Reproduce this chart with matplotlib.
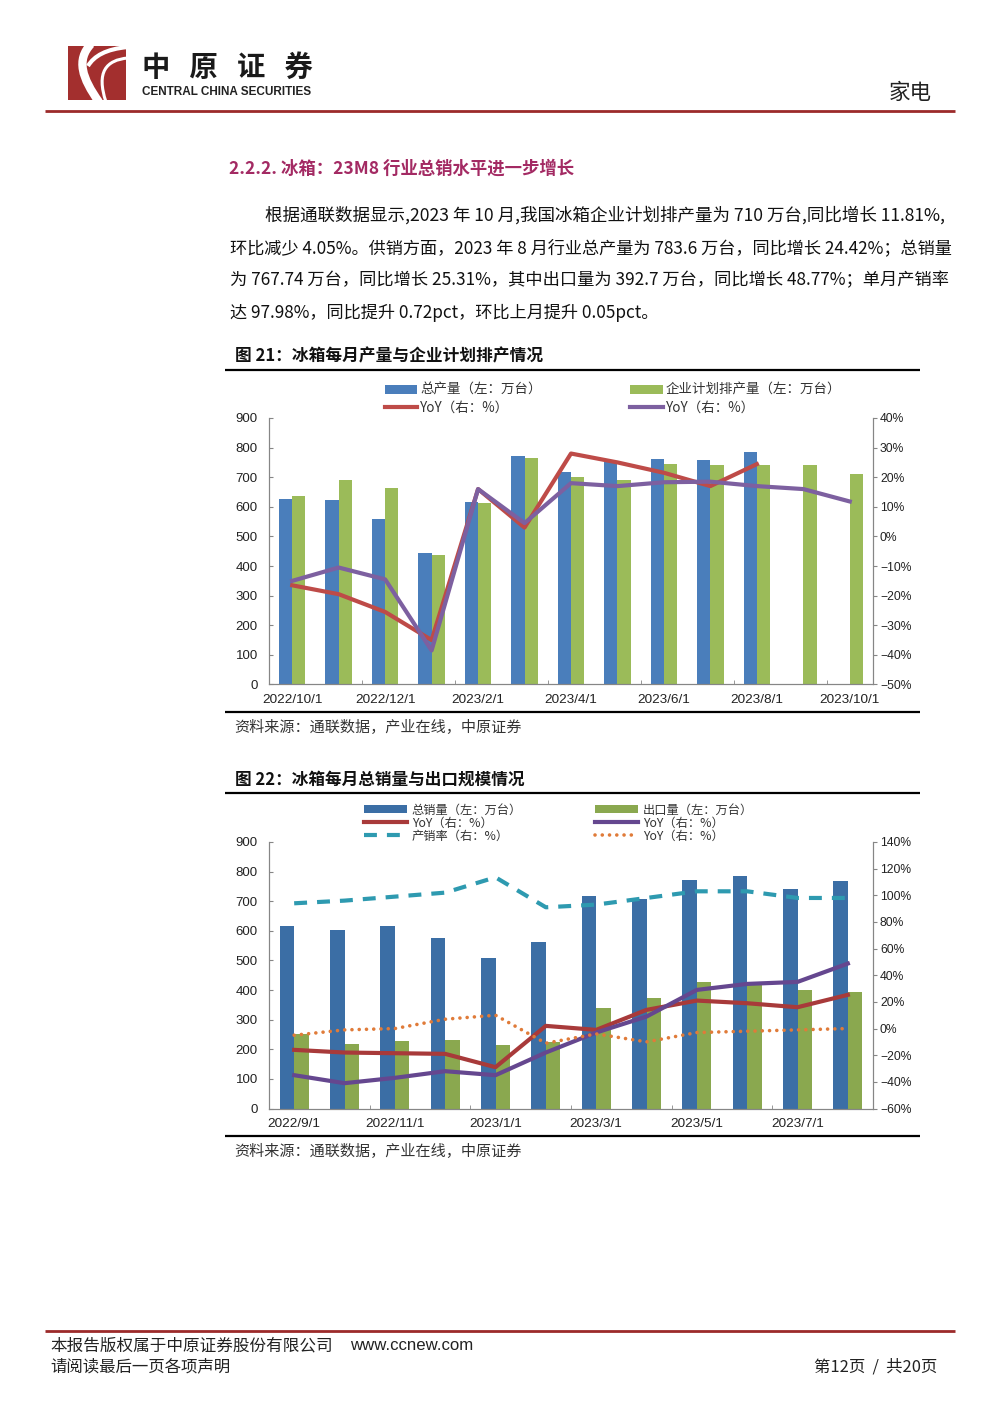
#!/usr/bin/env python3
# -*- coding: utf-8 -*-
import numpy as np
import matplotlib
matplotlib.use('Agg')
import matplotlib.pyplot as plt
from matplotlib.patches import Rectangle, PathPatch
from matplotlib.path import Path

plt.rcParams['font.family'] = ['Noto Sans CJK SC', 'DejaVu Sans']
LATIN = ['Liberation Sans', 'DejaVu Sans']

# chart 21
months1 = ['2022/10/1', '2022/11/1', '2022/12/1', '2023/1/1', '2023/2/1', '2023/3/1', '2023/4/1',
           '2023/5/1', '2023/6/1', '2023/7/1', '2023/8/1', '2023/9/1', '2023/10/1']
prod = [628, 623, 560, 445, 617, 772, 717, 752, 760, 757, 783.6, np.nan, np.nan]
plan = [635, 690, 665, 437, 614, 765, 700, 690, 745, 740, 740, 740, 710]
prod_yoy = [-16.5, -19.5, -25.5, -35, 16, 3, 28, 25, 21.5, 17, 24.42, np.nan, np.nan]
plan_yoy = [-15, -10.5, -14.5, -38.5, 16, 4.5, 18, 17, 18.3, 18.5, 17, 16, 11.81]
left_ticks1 = [0, 100, 200, 300, 400, 500, 600, 700, 800, 900]
right_ticks1 = [-50, -40, -30, -20, -10, 0, 10, 20, 30, 40]

# chart 22
months2 = ['2022/9/1', '2022/10/1', '2022/11/1', '2022/12/1', '2023/1/1', '2023/2/1',
           '2023/3/1', '2023/4/1', '2023/5/1', '2023/6/1', '2023/7/1', '2023/8/1']
sales = [617, 602, 615, 575, 508, 561, 716, 707, 771, 784, 740, 767.74]
export = [250, 218, 229, 233, 216, 223, 338, 374, 426, 420, 401, 392.7]
sales_yoy = [-16, -18, -18.5, -19, -29, 2, -1, 14, 21, 19, 16, 25.31]
export_yoy = [-35, -41, -37, -32, -35, -18, -3, 9, 29, 33.5, 35, 48.77]
ratio = [94, 96, 99, 102, 113.5, 91, 93, 98, 103, 103, 98, 98]
ratio_yoy = [-5, -1, 0, 7, 10, -11, -4, -10, -3, -2, -1, 0]
left_ticks2 = left_ticks1
right_ticks2 = [-60, -40, -20, 0, 20, 40, 60, 80, 100, 120, 140]

body = ['根据通联数据显示,2023 年 10 月,我国冰箱企业计划排产量为 710 万台,同比增长 11.81%,',
        '环比减少 4.05%。供销方面，2023 年 8 月行业总产量为 783.6 万台，同比增长 24.42%；总销量',
        '为 767.74 万台，同比增长 25.31%，其中出口量为 392.7 万台，同比增长 48.77%；单月产销率',
        '达 97.98%，同比提升 0.72pct，环比上月提升 0.05pct。']

GRAY = '#868686'
W, H = 1000, 1413
fig = plt.figure(figsize=(10, 14.13), dpi=100)

page = fig.add_axes([0, 0, 1, 1])
page.set_xlim(0, W)
page.set_ylim(H, 0)
page.axis('off')


def fit(x0, x1, y, s, size, **kw):
    # change the font size until the line ends where it does on the page
    t = page.text(x0, y + 1, s, fontsize=size, va='center', ha='left', **kw)
    for i in range(3):
        w = t.get_window_extent(fig.canvas.get_renderer()).width
        t.set_fontsize(t.get_fontsize() * (x1 - x0) / w)
    return t


def rule(x0, x1, y, color, lw):
    page.plot([x0, x1], [y, y], color=color, lw=lw, solid_capstyle='butt')


def pct(v):
    return ('%d%%' % v).replace('-', '\u2212')


def style_axes(ax, ax2, labels, left, right):
    n = len(labels)
    ax.set_xlim(-0.5, n - 0.5)
    ax.set_ylim(0, 900)
    ax.set_yticks(left)
    ax.set_yticklabels([str(v) for v in left], family=LATIN)
    ax2.set_ylim(right[0], right[-1])
    ax2.set_yticks(right)
    ax2.set_yticklabels([pct(v) for v in right], family=LATIN)
    ax.set_xticks(np.arange(0, n, 2))
    ax.set_xticklabels(labels[::2], family=LATIN)
    ax.set_xticks(np.arange(-0.5, n, 2), minor=True)
    ax.tick_params(axis='x', which='major', length=0, labelsize=9.7, pad=7, colors='#222222')
    ax.tick_params(axis='x', which='minor', direction='in', length=3, color=GRAY)
    ax.tick_params(axis='y', direction='in', length=3, color=GRAY, labelsize=9.5, labelcolor='#222222', pad=8)
    ax2.tick_params(axis='y', direction='out', length=3, color=GRAY, labelsize=8.7, labelcolor='#222222', pad=2)
    for a in (ax, ax2):
        a.spines['top'].set_visible(False)
        for k in ('left', 'right', 'bottom'):
            a.spines[k].set_color(GRAY)
    ax.set_zorder(1)
    ax2.set_zorder(2)
    ax2.patch.set_visible(False)


# logo
box = Rectangle((68, 46), 58, 54, color='#A32F2E', lw=0)
page.add_patch(box)
strokes = [([(91, 44), (76, 60), (82, 78), (99, 102)], 6),
           ([(128, 47), (106, 49), (94, 56), (88, 66)], 3),
           ([(128, 58), (106, 60), (96, 72), (106, 102)], 2.2)]
for pts, lw in strokes:
    p = PathPatch(Path(pts, [1, 4, 4, 4]), fc='none', ec='white', lw=lw)
    page.add_patch(p)
    p.set_clip_path(box)
fit(142, 313, 67, '中   原   证   券', 20, fontweight='bold', color='#1a1a1a')
fit(142, 312, 91, 'CENTRAL CHINA SECURITIES', 8, family=LATIN, fontweight='bold', color='#222222')
rule(45, 955, 111, '#9C2A2A', 2)
fit(889, 932, 92, '家电', 15.5, color='#222222')

# headings and body
fit(229, 574, 168, '2.2.2. 冰箱：23M8 行业总销水平进一步增长', 11.5, fontweight='bold', color='#A32A63')
body_x = [(265, 945), (230, 952), (230, 949), (230, 658)]
body_y = [214, 247, 279, 312]
for (a, b), y, s in zip(body_x, body_y, body):
    fit(a, b, y, s, 11, color='#111111')

fit(235, 542, 355, '图 21：冰箱每月产量与企业计划排产情况', 11, fontweight='bold', color='#111111')
rule(225, 920, 370, 'black', 1.6)
rule(225, 920, 712, 'black', 1.6)
fit(234, 520, 727, '资料来源：通联数据，产业在线，中原证券', 9.5, color='#333333')

fit(235, 525, 779, '图 22：冰箱每月总销量与出口规模情况', 11, fontweight='bold', color='#111111')
rule(225, 920, 793, 'black', 1.6)
rule(225, 920, 1136, 'black', 1.6)
fit(234, 520, 1151, '资料来源：通联数据，产业在线，中原证券', 9.5, color='#333333')

# footer
rule(45, 955, 1331, '#9C2A2A', 2)
fit(50, 332, 1345, '本报告版权属于中原证券股份有限公司', 10.5, color='#222222')
fit(350, 473, 1345, 'www.ccnew.com', 11, family=LATIN, color='#222222')
fit(50, 231, 1366, '请阅读最后一页各项声明', 10.5, color='#222222')
fit(814, 938, 1366, '第12页  /  共20页', 10.5, color='#222222')

# chart 21
ax1 = fig.add_axes([269 / W, 1 - 684.5 / H, 604 / W, 266.5 / H])
ax1r = ax1.twinx()
x1 = np.arange(len(months1))
bw = 0.285
b1 = ax1.bar(x1 - bw / 2, prod, bw, color='#4A7EBB')
b2 = ax1.bar(x1 + bw / 2, plan, bw, color='#9BBB59')
l1, = ax1r.plot(x1, prod_yoy, color='#BE4B48', lw=3)
l2, = ax1r.plot(x1, plan_yoy, color='#7D60A0', lw=3)
style_axes(ax1, ax1r, months1, left_ticks1, right_ticks1)
fig.legend([b1, l1, b2, l2], ['总产量（左：万台）', 'YoY（右：%）', '企业计划排产量（左：万台）', 'YoY（右：%）'],
           ncol=2, loc='center left', bbox_to_anchor=(385 / W, 1 - 399 / H), frameon=False, fontsize=9.7,
           handlelength=2.4, handletextpad=0.2, columnspacing=6.6, labelspacing=0.3, borderpad=0,
           borderaxespad=0, labelcolor='#333333')

# chart 22
ax2 = fig.add_axes([269 / W, 1 - 1108.5 / H, 604 / W, 266.5 / H])
ax2r = ax2.twinx()
x2 = np.arange(len(months2))
b3 = ax2.bar(x2 - bw / 2, sales, bw, color='#3B6EA5')
b4 = ax2.bar(x2 + bw / 2, export, bw, color='#8AA84F')
l3, = ax2r.plot(x2, sales_yoy, color='#A83A3A', lw=3)
l4, = ax2r.plot(x2, export_yoy, color='#65478F', lw=3)
l5, = ax2r.plot(x2, ratio, color='#2E9AB0', lw=3, ls=(0, (3.1, 2.4)))
l6, = ax2r.plot(x2, ratio_yoy, color='#E07B39', lw=2.6, ls=(0, (0.01, 2)), dash_capstyle='round')
style_axes(ax2, ax2r, months2, left_ticks2, right_ticks2)
fig.legend([b3, l3, l5, b4, l4, l6],
           ['总销量（左：万台）', 'YoY（右：%）', '产销率（右：%）', '出口量（左：万台）', 'YoY（右：%）', 'YoY（右：%）'],
           ncol=2, loc='center left', bbox_to_anchor=(364 / W, 1 - 823 / H), frameon=False, fontsize=8.8,
           handlelength=3.5, handletextpad=0.4, columnspacing=6.0, labelspacing=0.0, borderpad=0,
           borderaxespad=0, labelcolor='#333333')

fig.savefig('out.png', dpi=100)
